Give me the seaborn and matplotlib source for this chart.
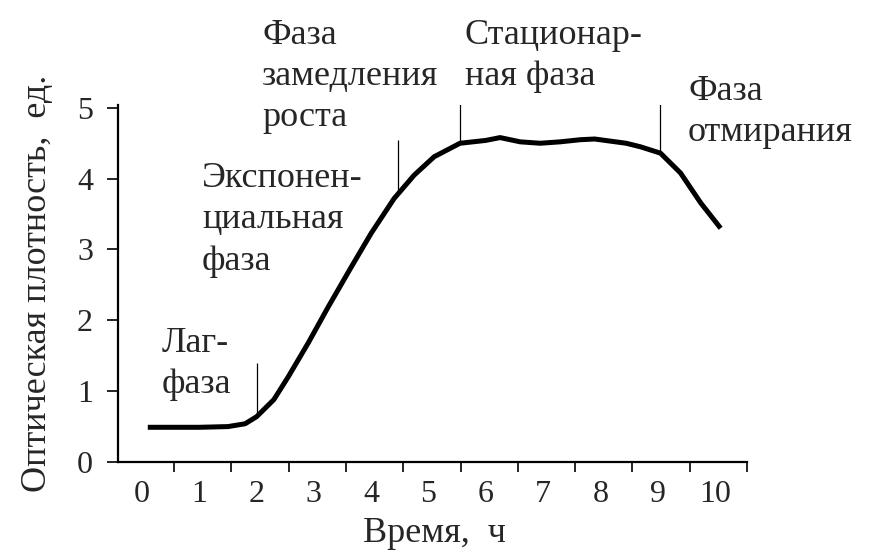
import numpy as np
import pandas as pd
import matplotlib
matplotlib.use("Agg")
import matplotlib.pyplot as plt
import seaborn as sns

# ---- data ----
time_h = [0.1, 0.5, 1.0, 1.5, 1.8, 2.0, 2.3, 2.55, 2.9, 3.25, 3.65, 4.0, 4.4,
          4.75, 5.1, 5.55, 6.0, 6.25, 6.6, 6.95, 7.3, 7.65, 7.9, 8.45, 8.7,
          9.05, 9.4, 9.75, 10.1]
optical_density = [0.49, 0.49, 0.49, 0.50, 0.54, 0.64, 0.88, 1.20, 1.68, 2.19,
                   2.75, 3.23, 3.72, 4.05, 4.31, 4.50, 4.54, 4.58, 4.52, 4.50,
                   4.52, 4.55, 4.56, 4.50, 4.45, 4.36, 4.08, 3.66, 3.30]

x_tick_labels = [str(i) for i in range(11)]
y_tick_labels = [str(i) for i in range(6)]

# phase boundary markers: (time, bottom, top)
marker_t = [2.0, 4.47, 5.55, 9.04]
marker_bottom = [0.66, 3.80, 4.50, 4.36]
marker_top = [1.40, 4.55, 5.30, 5.10]

phase_labels = ["Лаг-\nфаза", "Экспонен-\nциальная\nфаза",
                "Фаза\nзамедления\nроста", "Стационар-\nная фаза",
                "Фаза\nотмирания"]

xlabel = "Время,  ч"
ylabel = "Оптическая плотность,  ед."

df = pd.DataFrame({"t": time_h, "od": optical_density})

sns.set_theme(style="white")
plt.rcParams["font.family"] = ["Liberation Serif", "DejaVu Serif"]

W, H = 869, 556
fig = plt.figure(figsize=(W / 100, H / 100), dpi=100)
fig.patch.set_facecolor("white")

def fx(px):
    return px / W

def fy(py):
    return 1 - py / H

ax = fig.add_axes([fx(118), fy(462), fx(747) - fx(118), fy(105) - fy(462)])
ax.set_facecolor("white")

sns.lineplot(data=df, x="t", y="od", ax=ax, color="black", linewidth=3.6,
             solid_capstyle="butt")

ax.vlines(marker_t, marker_bottom, marker_top, color="black", linewidth=0.9)

ax.set_xlim(-0.42, 10.56)
ax.set_ylim(0, 5.04)

fs_tick = 23
fs_lab = 26
fs_txt = 26
# x: labels at integers, tick marks between
ax.set_xticks(range(11))
ax.set_xticklabels(x_tick_labels, fontsize=fs_tick)
ax.tick_params(axis="x", which="major", length=0, pad=13)
ax.set_xticks([k + 0.56 for k in range(11)], minor=True)
ax.tick_params(axis="x", which="minor", length=7, width=1.2, color="black",
               direction="out", bottom=True)

ax.set_yticks(range(6))
ax.set_yticklabels(y_tick_labels, fontsize=fs_tick)
ax.tick_params(axis="y", which="major", length=8, width=1.2, color="black",
               direction="out", left=True, pad=10)

for s in ["top", "right"]:
    ax.spines[s].set_visible(False)
for s in ["left", "bottom"]:
    ax.spines[s].set_visible(True)
    ax.spines[s].set_color("black")
    ax.spines[s].set_linewidth(1.6)

ax.set_xlabel("")
ax.set_ylabel("")

fig.text(fx(434), fy(533), xlabel, fontsize=fs_lab, ha="center", va="center")
fig.text(fx(38), fy(283), ylabel, fontsize=fs_lab, ha="center", va="center",
         rotation=90)

text_pos = [(162, 327), (202, 162), (262, 19), (465, 19), (688, 75)]
for (px, py), lab in zip(text_pos, phase_labels):
    fig.text(fx(px), fy(py), lab, fontsize=fs_txt, ha="left", va="top",
             linespacing=1.33)

fig.savefig("out.png", dpi=100, facecolor="white")
